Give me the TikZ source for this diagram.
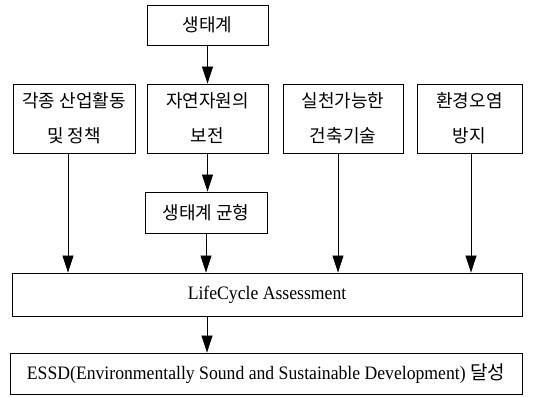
\documentclass[tikz,border=0pt]{standalone}
\usepackage{fontspec}
\setmainfont{Liberation Serif}[FakeStretch=0.93]
\newfontfamily\krfont{Noto Sans CJK KR}
\usetikzlibrary{arrows.meta}

\begin{document}
\begin{tikzpicture}[x=1pt,y=-1pt,every text node part/.style={align=center},
		box/.style={draw,line width=0.9pt,inner sep=0pt,font=\krfont\fontsize{18}{35}\selectfont},
		wide/.style={box,font=\fontsize{19}{23}\selectfont},
		flow/.style={-{Triangle[length=17pt,width=11pt]},line width=0.7pt}]
		\useasboundingbox (0,0) rectangle (556,396);
		%top box
		\node[box,minimum width=121pt,minimum height=40pt] (eco) at (207.5,25) {생태계};
		
		%second row
		\node[box,minimum width=122pt,minimum height=69pt] (ind) at (74,118.5) {각종 산업활동\\및 정책};
		\node[box,minimum width=121pt,minimum height=69pt] (nat) at (207.5,118.5) {자연자원의\\보전};
		\node[box,minimum width=120pt,minimum height=69pt] (tech) at (343,118.5) {실천가능한\\건축기술};
		\node[box,minimum width=105pt,minimum height=69pt] (poll) at (469.5,118.5) {환경오염\\방지};
		\node[box,minimum width=122pt,minimum height=41pt] (bal) at (206,212.5) {생태계 균형};
		
		%bottom boxes
		\node[wide,minimum width=510pt,minimum height=43pt] (lca) at (267,294.5) {LifeCycle Assessment};
		\node[wide,minimum width=512pt,minimum height=41pt] (essd) at (266,373.5)
			{ESSD(Environmentally Sound and Sustainable Development) {\krfont 달성}};
		
		%arrows
		\draw[flow] (eco) -- (nat);
		\draw[flow] (nat.south) -- (nat.south |- bal.north);
		\draw[flow] ([xshift=-6pt]ind.south) -- ([xshift=-6pt]ind.south |- lca.north);
		\draw[flow] (bal.south) -- (bal.south |- lca.north);
		\draw[flow] ([xshift=-5pt]tech.south) -- ([xshift=-5pt]tech.south |- lca.north);
		\draw[flow] ([xshift=1.5pt]poll.south) -- ([xshift=1.5pt]poll.south |- lca.north);
		\draw[flow] ([xshift=-60pt]lca.south) -- ([xshift=-60pt]lca.south |- essd.north);
		
\end{tikzpicture}
\end{document}
